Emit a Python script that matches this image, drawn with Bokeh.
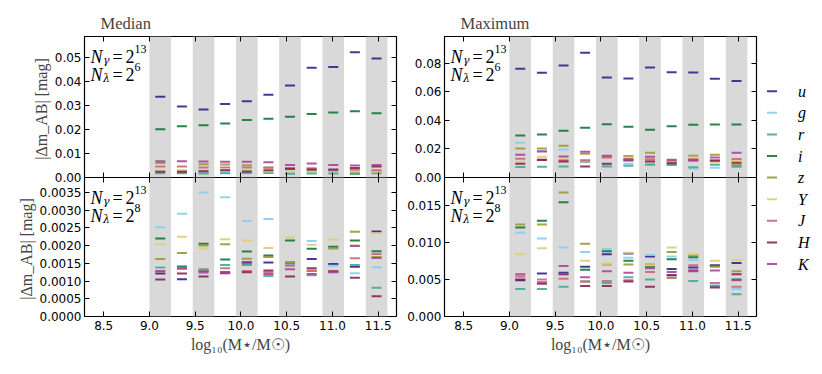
from bokeh.plotting import figure
from bokeh.layouts import row, column
from bokeh.models import (Range1d, LinearAxis, FixedTicker, PrintfTickFormatter,
                          BoxAnnotation, Label)
from bokeh.embed import file_html
from bokeh.resources import INLINE
from bokeh.core.properties import value

# ---------------- data ----------------
bands = ["u", "g", "r", "i", "z", "Y", "J", "H", "K"]
band_colors = ["#332288", "#88CCEE", "#44AA99", "#117733", "#999933",
               "#DDCC77", "#CC6677", "#882255", "#AA4499"]
bin_edges = [9.000, 9.236, 9.473, 9.709, 9.945, 10.182, 10.418, 10.655, 10.891, 11.127, 11.364, 11.600]
bin_centers = [9.118, 9.355, 9.591, 9.827, 10.064, 10.300, 10.536, 10.773, 11.009, 11.245, 11.482]

x_ticks = [8.5, 9.0, 9.5, 10.0, 10.5, 11.0, 11.5]
med6_ticks = [0.00, 0.01, 0.02, 0.03, 0.04, 0.05]
med8_ticks = [0.0, 0.0005, 0.0010, 0.0015, 0.0020, 0.0025, 0.0030, 0.0035]
max6_ticks = [0.00, 0.02, 0.04, 0.06, 0.08]
max8_ticks = [0.000, 0.005, 0.010, 0.015]

# Median, N_lambda = 2^6
med6_u = [0.0336, 0.0296, 0.0283, 0.0306, 0.0317, 0.0345, 0.0383, 0.0457, 0.0460, 0.0521, 0.0495]
med6_g = [0.0025, 0.0020, 0.0020, 0.0022, 0.0022, 0.0022, 0.0020, 0.0022, 0.0020, 0.0018, 0.0020]
med6_r = [0.0018, 0.0018, 0.0017, 0.0018, 0.0019, 0.0019, 0.0016, 0.0017, 0.0017, 0.0015, 0.0018]
med6_i = [0.0201, 0.0213, 0.0218, 0.0225, 0.0239, 0.0245, 0.0253, 0.0264, 0.0271, 0.0276, 0.0268]
med6_z = [0.0060, 0.0025, 0.0055, 0.0054, 0.0051, 0.0042, 0.0040, 0.0030, 0.0028, 0.0020, 0.0025]
med6_Y = [0.0029, 0.0030, 0.0030, 0.0030, 0.0030, 0.0025, 0.0025, 0.0025, 0.0025, 0.0025, 0.0024]
med6_J = [0.0046, 0.0046, 0.0042, 0.0042, 0.0042, 0.0041, 0.0040, 0.0038, 0.0030, 0.0032, 0.0030]
med6_H = [0.0024, 0.0024, 0.0026, 0.0030, 0.0025, 0.0030, 0.0035, 0.0033, 0.0033, 0.0040, 0.0046]
med6_K = [0.0068, 0.0068, 0.0067, 0.0066, 0.0066, 0.0064, 0.0052, 0.0058, 0.0052, 0.0050, 0.0052]

# Median, N_lambda = 2^8
med8_u = [0.00121, 0.00105, 0.00128, 0.00125, 0.00153, 0.00152, 0.00148, 0.00162, 0.00148, 0.00140, 0.00240]
med8_g = [0.00252, 0.00290, 0.00350, 0.00336, 0.00269, 0.00275, 0.00145, 0.00213, 0.00143, 0.00122, 0.00139]
med8_r = [0.00138, 0.00142, 0.00130, 0.00145, 0.00145, 0.00114, 0.00150, 0.00116, 0.00127, 0.00145, 0.00081]
med8_i = [0.00220, 0.00139, 0.00205, 0.00161, 0.00183, 0.00172, 0.00214, 0.00191, 0.00197, 0.00214, 0.00184]
med8_z = [0.00162, 0.00179, 0.00200, 0.00204, 0.00163, 0.00168, 0.00154, 0.00130, 0.00192, 0.00239, 0.00168]
med8_Y = [0.00203, 0.00225, 0.00192, 0.00218, 0.00214, 0.00193, 0.00223, 0.00202, 0.00217, 0.00201, 0.00235]
med8_J = [0.00126, 0.00137, 0.00133, 0.00136, 0.00128, 0.00125, 0.00143, 0.00128, 0.00128, 0.00164, 0.00176]
med8_H = [0.00104, 0.00121, 0.00113, 0.00122, 0.00125, 0.00130, 0.00113, 0.00136, 0.00127, 0.00109, 0.00057]
med8_K = [0.00128, 0.00135, 0.00124, 0.00124, 0.00150, 0.00120, 0.00133, 0.00120, 0.00125, 0.00199, 0.00165]

# Maximum, N_lambda = 2^6
max6_u = [0.0763, 0.0735, 0.0786, 0.0875, 0.0702, 0.0695, 0.0772, 0.0739, 0.0737, 0.0693, 0.0676]
max6_g = [0.0243, 0.0185, 0.0197, 0.0115, 0.0085, 0.0096, 0.0095, 0.0093, 0.0061, 0.0068, 0.0080]
max6_r = [0.0073, 0.0075, 0.0077, 0.0110, 0.0077, 0.0082, 0.0089, 0.0087, 0.0072, 0.0090, 0.0075]
max6_i = [0.0295, 0.0302, 0.0328, 0.0349, 0.0374, 0.0356, 0.0335, 0.0360, 0.0370, 0.0371, 0.0371]
max6_z = [0.0204, 0.0204, 0.0222, 0.0166, 0.0145, 0.0150, 0.0173, 0.0102, 0.0152, 0.0160, 0.0087]
max6_Y = [0.0110, 0.0145, 0.0128, 0.0120, 0.0137, 0.0140, 0.0115, 0.0108, 0.0140, 0.0105, 0.0120]
max6_J = [0.0131, 0.0126, 0.0120, 0.0121, 0.0140, 0.0130, 0.0128, 0.0117, 0.0128, 0.0121, 0.0130]
max6_H = [0.0096, 0.0122, 0.0112, 0.0077, 0.0096, 0.0120, 0.0112, 0.0100, 0.0120, 0.0117, 0.0103]
max6_K = [0.0159, 0.0182, 0.0147, 0.0180, 0.0152, 0.0125, 0.0146, 0.0124, 0.0123, 0.0140, 0.0173]

# Maximum, N_lambda = 2^8
max8_u = [0.0049, 0.0058, 0.0059, 0.0067, 0.0084, 0.0085, 0.0081, 0.0064, 0.0066, 0.0069, 0.0072]
max8_g = [0.0113, 0.0105, 0.0093, 0.0087, 0.0091, 0.0079, 0.0083, 0.0081, 0.0076, 0.0042, 0.0037]
max8_r = [0.0037, 0.0037, 0.0040, 0.0047, 0.0045, 0.0053, 0.0050, 0.0055, 0.0048, 0.0041, 0.0030]
max8_i = [0.0120, 0.0129, 0.0154, 0.0063, 0.0088, 0.0075, 0.0067, 0.0077, 0.0080, 0.0068, 0.0050]
max8_z = [0.0124, 0.0124, 0.0167, 0.0098, 0.0070, 0.0070, 0.0070, 0.0087, 0.0083, 0.0067, 0.0061]
max8_Y = [0.0084, 0.0092, 0.0057, 0.0075, 0.0071, 0.0086, 0.0069, 0.0093, 0.0084, 0.0075, 0.0076]
max8_J = [0.0054, 0.0050, 0.0051, 0.0047, 0.0048, 0.0049, 0.0060, 0.0052, 0.0069, 0.0045, 0.0040]
max8_H = [0.0050, 0.0044, 0.0057, 0.0041, 0.0041, 0.0047, 0.0040, 0.0056, 0.0062, 0.0039, 0.0057]
max8_K = [0.0057, 0.0046, 0.0068, 0.0053, 0.0061, 0.0059, 0.0065, 0.0060, 0.0061, 0.0062, 0.0049]

med6 = [med6_u, med6_g, med6_r, med6_i, med6_z, med6_Y, med6_J, med6_H, med6_K]
med8 = [med8_u, med8_g, med8_r, med8_i, med8_z, med8_Y, med8_J, med8_H, med8_K]
max6 = [max6_u, max6_g, max6_r, max6_i, max6_z, max6_Y, max6_J, max6_H, max6_K]
max8 = [max8_u, max8_g, max8_r, max8_i, max8_z, max8_Y, max8_J, max8_H, max8_K]

# ---------------- layout constants ----------------
FRAME_W = 312
TOP_H = 141
BOT_H = 139
TOP_BORDER = 36
BOT_BORDER = 42
OVERLAP = 7          # room below the upper panel for its "0.00" label
X_RANGE = (8.29, 11.70)
SERIF = "Liberation Serif"
GREEK = "DejaVu Serif"
SANS = "DejaVu Sans"
TICK_LEN = 5
YLABEL = "|Δm_AB|  [mag]"


def style_axis(ax, labels=True):
    ax.major_tick_in = TICK_LEN
    ax.major_tick_out = 0
    ax.minor_tick_line_color = None
    ax.major_tick_line_color = "black"
    ax.major_tick_line_width = 1
    ax.axis_line_color = None
    ax.major_label_text_font = SANS
    ax.major_label_text_font_size = "12px"
    ax.major_label_text_color = "black" if labels else None


def add_label(p, text, x, y, size, style="normal", font=SERIF):
    p.add_layout(Label(x=x, y=y, x_units="screen", y_units="screen", text=text,
                       text_font=font, text_font_size=f"{size}px", text_font_style=style,
                       text_color="black", text_align="left", text_baseline="alphabetic"))


def n_labels(p, frame_h, lam_exp):
    lines = [(frame_h - 20, "γ", "13"), (frame_h - 38, "λ", lam_exp)]
    for base, sub, sup in lines:
        add_label(p, "N", 6, base, 18, "italic")
        add_label(p, sub, 18.5, base - 4, 11, "italic", GREEK)
        add_label(p, "=", 28, base, 18)
        add_label(p, "2", 41, base, 18)
        add_label(p, sup, 50, base + 8, 12)


def make_panel(vals, ymax, ticks, fmt, is_top, left_border, title=None, ylabel=False, lam_exp="6"):
    frame_h = TOP_H if is_top else BOT_H
    p = figure(frame_width=FRAME_W, frame_height=frame_h,
               x_range=Range1d(*X_RANGE), y_range=Range1d(0, ymax),
               x_axis_location=None if is_top else "below", y_axis_location="left",
               output_backend="svg", toolbar_location=None,
               min_border_left=left_border, min_border_right=2,
               min_border_top=TOP_BORDER if is_top else 0,
               min_border_bottom=OVERLAP if is_top else BOT_BORDER)
    p.grid.visible = False
    p.outline_line_color = "black"
    p.outline_line_width = 1.2
    p.background_fill_color = "white"
    if is_top:
        p.border_fill_color = "white"
    else:
        # lower panel slides up under the upper one's bottom margin
        p.border_fill_alpha = 0
        p.margin = (-OVERLAP, 0, 0, 0)

    if title:
        p.title.text = title
        p.title.align = "left"
        p.title.offset = 16
        p.title.text_font = SERIF
        p.title.text_font_size = "16.5px"
        p.title.text_font_style = "normal"
        p.title.standoff = 7

    # bottom x axis with labels (lower panels)
    if not is_top:
        xa = p.below[0]
        xa.ticker = FixedTicker(ticks=x_ticks)
        xa.formatter = PrintfTickFormatter(format="%.1f")
        style_axis(xa)
        xa.major_label_standoff = 4
        xa.axis_label = "log₁₀(M⋆/M☉)"
        xa.axis_label_text_font = SERIF
        xa.axis_label_text_font_size = "16px"
        xa.axis_label_text_font_style = "normal"
        xa.axis_label_standoff = 3

    # left axis with tick labels
    ya = p.left[0]
    style_axis(ya)
    ya.major_label_standoff = 3
    ya.ticker = FixedTicker(ticks=ticks)
    ya.formatter = PrintfTickFormatter(format=fmt)
    if ylabel:
        ya.axis_label = YLABEL
        ya.axis_label_text_font = SERIF
        ya.axis_label_text_font_size = "16px"
        ya.axis_label_text_font_style = "normal"
        ya.axis_label_standoff = 2

    # right ticks
    ra = LinearAxis(ticker=FixedTicker(ticks=ticks), fixed_location=X_RANGE[1])
    style_axis(ra, labels=False)
    p.add_layout(ra, "right")

    # top ticks
    ta = LinearAxis(ticker=FixedTicker(ticks=x_ticks), fixed_location=ymax)
    style_axis(ta, labels=False)
    p.add_layout(ta, "above")

    if is_top:
        ba = LinearAxis(ticker=FixedTicker(ticks=x_ticks), fixed_location=0)
        style_axis(ba, labels=False)
        p.add_layout(ba, "below")

    # alternating grey bins
    for k in range(0, len(bin_edges) - 1, 2):
        p.add_layout(BoxAnnotation(left=bin_edges[k], right=bin_edges[k + 1],
                                   fill_color="#d9d9d9", fill_alpha=1.0,
                                   line_alpha=0, level="underlay"))

    for v, c in zip(vals, band_colors):
        p.scatter(bin_centers, v, marker="dash", size=10, line_color=c,
                  line_width=2, line_alpha=0.9)

    n_labels(p, frame_h, lam_exp)
    return p


p_tl = make_panel(med6, 0.0587, med6_ticks, "%.2f", True, 84, "Median", True, "6")
p_bl = make_panel(med8, 0.00392, med8_ticks, "%.4f", False, 84, None, True, "8")
p_tr = make_panel(max6, 0.0989, max6_ticks, "%.2f", True, 46, "Maximum", False, "6")
p_br = make_panel(max8, 0.01873, max8_ticks, "%.3f", False, 46, None, False, "8")

# legend panel
row_px = 21.6
first_px = 90.7 - TOP_BORDER
LEG_FRAME_H = TOP_H + BOT_H
p_leg = figure(frame_width=54, frame_height=LEG_FRAME_H, x_range=Range1d(0, 54),
               y_range=Range1d((LEG_FRAME_H - first_px) / row_px, -first_px / row_px),
               x_axis_location=None, y_axis_location=None,
               output_backend="svg", toolbar_location=None,
               min_border_left=0, min_border_right=0,
               min_border_top=TOP_BORDER, min_border_bottom=BOT_BORDER)
p_leg.grid.visible = False
p_leg.outline_line_color = None
p_leg.background_fill_color = "white"
p_leg.border_fill_color = "white"
idx = list(range(len(bands)))
p_leg.scatter([13.5] * len(bands), idx, marker="dash", size=10, line_color=band_colors,
              line_width=2, line_alpha=0.9)
p_leg.text([39.5] * len(bands), idx, text=bands, text_font=value(SERIF),
           text_font_style="italic", text_font_size="16px", text_baseline="middle",
           text_align="left", text_color="black")

layout = row(column(p_tl, p_bl), column(p_tr, p_br), p_leg)
open("out.html", "w").write(file_html(layout, INLINE))
